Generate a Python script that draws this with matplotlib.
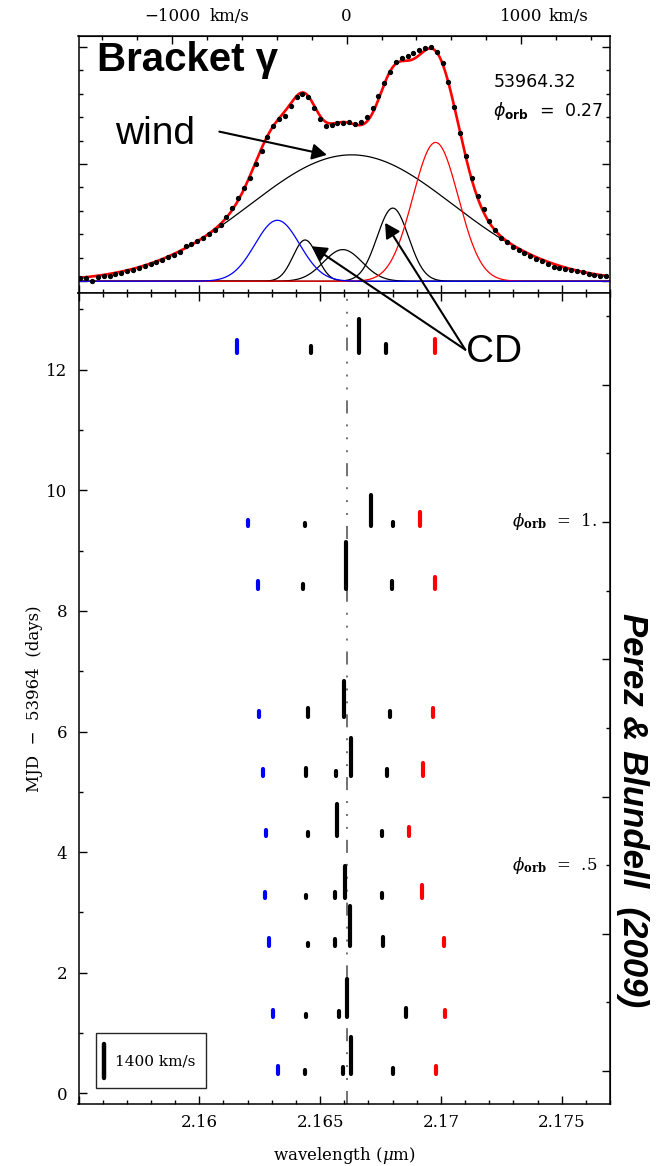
import numpy as np
import matplotlib
matplotlib.use("Agg")
import matplotlib.pyplot as plt
from matplotlib.patches import Rectangle
from matplotlib.ticker import MultipleLocator, FixedLocator, NullFormatter, FuncFormatter
import matplotlib.transforms as mtransforms

plt.rcParams['font.family'] = ['DejaVu Serif']
plt.rcParams['mathtext.fontset'] = 'dejavuserif'
plt.rcParams['lines.scale_dashes'] = False

# ---------------- data ----------------
LAM0 = 2.1661          # Br gamma rest wavelength (micron)
C_KMS = 299792.458

# top panel: observed spectrum (day 0.32), flux in tick units above continuum
spec_wl_start = 2.15508
spec_wl_step = 0.0002418
spec_flux = [0.14, 0.15, 0.03, 0.18, 0.22, 0.24, 0.31, 0.36, 0.45, 0.50,
             0.56, 0.63, 0.72, 0.84, 0.92, 1.04, 1.10, 1.24, 1.50, 1.58,
             1.70, 1.84, 2.00, 2.20, 2.42, 2.75, 3.12, 3.55, 3.97, 4.42,
             4.98, 5.55, 6.15, 6.62, 6.90, 7.05, 7.48, 7.84, 7.99, 7.86,
             7.38, 6.90, 6.62, 6.67, 6.74, 6.76, 6.77, 6.72, 6.80, 7.02,
             7.38, 7.90, 8.47, 8.94, 9.35, 9.52, 9.60, 9.72, 9.86, 9.96,
             10.00, 9.79, 9.29, 8.51, 7.45, 6.31, 5.32, 4.40, 3.62, 3.08,
             2.55, 2.17, 1.84, 1.66, 1.46, 1.35, 1.22, 1.06, 0.95, 0.85,
             0.75, 0.62, 0.57, 0.52, 0.47, 0.43, 0.38, 0.33, 0.28, 0.24, 0.21]

# Gaussian components of the fit: centre (micron), sigma (micron), amplitude
wind_comp = (2.1663, 0.0042, 5.39)
blue_comp = (2.16323, 0.000925, 2.60)
red_comp = (2.16978, 0.00094, 5.92)
cd_comps = [(2.16438, 0.0005, 1.76),
            (2.16594, 0.0008, 1.35),
            (2.16801, 0.00065, 3.12)]

# bottom panel: per epoch (MJD-53964), bar centre wavelengths and bar lengths (days)
epoch_day = [12.27, 9.414, 8.363, 6.248, 5.270, 4.276, 3.237, 2.452, 1.264, 0.320]
blue_wl = [2.16155, 2.16200, 2.16244, 2.16247, 2.16265, 2.16275, 2.16273, 2.16289, 2.16306, 2.16325]
blue_len = [0.221, 0.094, 0.138, 0.099, 0.105, 0.099, 0.105, 0.121, 0.121, 0.133]
red_wl = [2.16977, 2.16913, 2.16974, 2.16967, 2.16927, 2.16869, 2.16921, 2.17013, 2.17018, 2.16978]
red_len = [0.238, 0.221, 0.204, 0.149, 0.215, 0.138, 0.221, 0.127, 0.121, 0.133]
wind_wl = [2.16663, 2.16710, 2.16606, 2.16597, 2.16626, 2.16569, 2.16605, 2.16623, 2.16613, 2.16628]
wind_len = [0.569, 0.514, 0.774, 0.597, 0.624, 0.530, 0.530, 0.652, 0.630, 0.624]
cd_wl = [[2.16464, 2.16774],
         [2.16439, 2.16800],
         [2.16428, 2.16798],
         [2.16449, 2.16791],
         [2.16443, 2.16566, 2.16779],
         [2.16449, 2.16757],
         [2.16442, 2.16562, 2.16757],
         [2.16450, 2.16562, 2.16760],
         [2.16442, 2.16580, 2.16856],
         [2.16438, 2.16594, 2.16803]]
cd_len = [[0.127, 0.155],
          [0.044, 0.066],
          [0.083, 0.127],
          [0.138, 0.099],
          [0.127, 0.072, 0.110],
          [0.066, 0.077],
          [0.055, 0.099, 0.083],
          [0.050, 0.105, 0.138],
          [0.055, 0.105, 0.155],
          [0.061, 0.116, 0.099]]

# orbital phase scale on the right axis
phase_one_day = 9.474
period_days = 11.38
phase_major = [0.2, 0.4, 0.6, 0.8, 1.0, 1.2]
phase_minor = [0.3, 0.5, 0.7, 0.9, 1.1, 1.3]

vel_major = [-1000, 0, 1000]
scale_bar_kms = 1400
scale_bar_len = 0.569

# ---------------- figure ----------------
W, H = 658, 1166
fig = plt.figure(figsize=(W / 100, H / 100), dpi=100)
L, R = 78.5, 610.0
T_top, B_top, B_bot = 35.7, 293.0, 1104.3
ax_top = fig.add_axes([L / W, 1 - B_top / H, (R - L) / W, (B_top - T_top) / H])
ax_bot = fig.add_axes([L / W, 1 - B_bot / H, (R - L) / W, (B_bot - B_top) / H])

XLIM = (2.155, 2.177)

def gauss(x, c, s, a):
    return a * np.exp(-0.5 * ((x - c) / s) ** 2)

# ----- top panel -----
lam = np.linspace(XLIM[0], XLIM[1], 2000)
for comp in [wind_comp] + cd_comps:
    ax_top.plot(lam, gauss(lam, *comp), color='k', lw=0.9, zorder=2)
ax_top.plot(lam, gauss(lam, *red_comp), color='#ff0000', lw=0.9, zorder=2)
ax_top.plot(lam, gauss(lam, *blue_comp), color='#0000ff', lw=0.9, zorder=2.1)
total = sum(gauss(lam, *c) for c in [wind_comp, blue_comp, red_comp] + cd_comps)
ax_top.plot(lam, total, color='#ff0000', lw=1.9, zorder=3)
spec_wl = spec_wl_start + spec_wl_step * np.arange(len(spec_flux))
ax_top.plot(spec_wl, spec_flux, 'o', color='k', ms=2.8, zorder=4)

ax_top.set_xlim(*XLIM)
ax_top.set_ylim(-0.5, 10.47)
ax_top.xaxis.set_major_locator(MultipleLocator(0.005))
ax_top.xaxis.set_minor_locator(MultipleLocator(0.001))
ax_top.yaxis.set_major_locator(MultipleLocator(5))
ax_top.yaxis.set_minor_locator(MultipleLocator(1))
ax_top.tick_params(which='both', direction='in', bottom=True, top=False, left=True, right=True,
                   labelbottom=False, labelleft=False, width=1.0)
ax_top.tick_params(which='major', length=5.8)
ax_top.tick_params(which='minor', length=2.9)

sec_x = ax_top.secondary_xaxis('top', functions=(lambda l: (l / LAM0 - 1) * C_KMS,
                                                  lambda v: LAM0 * (1 + v / C_KMS)))
sec_x.xaxis.set_major_locator(FixedLocator(vel_major))
sec_x.xaxis.set_minor_locator(MultipleLocator(200))
sec_x.tick_params(which='both', direction='in', labeltop=False, width=1.0)
sec_x.tick_params(which='major', length=5.8)
sec_x.tick_params(which='minor', length=2.9)

blend = mtransforms.blended_transform_factory(ax_top.transData, ax_top.transAxes)
ylab = 1 + (T_top - 16.7) / (B_top - T_top)
for v in vel_major:
    x = LAM0 * (1 + v / C_KMS)
    s = '0' if v == 0 else ('\u22121000' if v < 0 else '1000')
    ax_top.text(x, ylab, s, transform=blend, ha='center', va='center', fontsize=12, clip_on=False)
    if v != 0:
        dx = 26.9 if v < 0 else 19.7
        ax_top.annotate('km/s', xy=(x, ylab), xycoords=blend, xytext=(dx, 0),
                        textcoords='offset points', ha='left', va='center', fontsize=12,
                        annotation_clip=False)

for sp in ax_top.spines.values():
    sp.set_linewidth(1.1)

ax_top.text(2.15575, 9.43, 'Bracket \u03b3', family=['Liberation Sans', 'DejaVu Sans'],
            fontweight='bold', fontsize=29, ha='left', va='center')
ax_top.text(2.1565, 5.86, 'wind', family=['Liberation Sans', 'DejaVu Sans'], fontweight='normal',
            fontsize=28, ha='left', va='baseline')
ax_top.annotate('', xy=(2.16528, 5.39), xytext=(2.16083, 6.38),
                arrowprops=dict(arrowstyle='-|>,head_length=0.4,head_width=0.22',
                                mutation_scale=22, color='k', lw=1.5, shrinkA=0, shrinkB=0))
ax_top.text(2.17217, 8.51, '53964.32', family=['DejaVu Sans'], fontsize=12.5, ha='left', va='center')
ax_top.text(2.17217, 7.27, r'$\phi_{\mathbf{orb}}$  =  0.27', family=['DejaVu Sans'],
            math_fontfamily='dejavusans', fontsize=12.5, ha='left', va='center')

# ----- bottom panel -----
ax_bot.axvline(LAM0, color='0.4', lw=1.3,
               linestyle=(0, (9.4, 7.9, 1.4, 7.9, 1.4, 7.9, 1.4, 7.9)), zorder=1)

def bar(x, y0, h, color, lw=3.0):
    ax_bot.plot([x, x], [y0, y0 + h], color=color, lw=lw, solid_capstyle='round', zorder=3)

for i, d in enumerate(epoch_day):
    bar(blue_wl[i], d, blue_len[i], '#0000ff')
    bar(red_wl[i], d, red_len[i], '#ff0000')
    bar(wind_wl[i], d, wind_len[i], 'k')
    for w, h in zip(cd_wl[i], cd_len[i]):
        bar(w, d, h, 'k')

# scale-bar legend
ax_bot.add_patch(Rectangle((2.15573, 0.083), 2.16026 - 2.15573, 0.995 - 0.083,
                           fill=False, edgecolor='0.15', lw=1.0, zorder=2))
bar(2.15605, 0.253, scale_bar_len, 'k', lw=3.2)
ax_bot.text(2.15650, 0.524, f'{scale_bar_kms} km/s', fontsize=11, ha='left', va='center')

ax_bot.set_xlim(*XLIM)
ax_bot.set_ylim(-0.18, 13.27)
ax_bot.xaxis.set_major_locator(MultipleLocator(0.005))
ax_bot.xaxis.set_minor_locator(MultipleLocator(0.001))
ax_bot.xaxis.set_major_formatter(FuncFormatter(lambda x, p: '' if x < 2.1575 else f'{x:g}'))
ax_bot.yaxis.set_major_locator(MultipleLocator(2))
ax_bot.yaxis.set_minor_locator(MultipleLocator(1))
ax_bot.tick_params(which='both', direction='in', bottom=True, top=True, left=True, right=False,
                   labelsize=12, width=1.0)
ax_bot.tick_params(which='major', length=5.8)
ax_bot.tick_params(which='minor', length=2.9)
ax_bot.tick_params(axis='x', pad=7)
ax_bot.tick_params(axis='y', pad=8)
for sp in ax_bot.spines.values():
    sp.set_linewidth(1.1)

sec_y = ax_bot.secondary_yaxis('right', functions=(lambda d: 1 + (d - phase_one_day) / period_days,
                                                    lambda p: phase_one_day + (p - 1) * period_days))
sec_y.yaxis.set_major_locator(FixedLocator(phase_major))
sec_y.yaxis.set_minor_locator(FixedLocator(phase_minor))
sec_y.yaxis.set_major_formatter(NullFormatter())
sec_y.tick_params(which='both', direction='in', width=1.0)
sec_y.tick_params(which='major', length=5.8)
sec_y.tick_params(which='minor', length=2.9)

for ph, s in [(1.0, '1.'), (0.5, '.5')]:
    ax_bot.text(2.17648, phase_one_day + (ph - 1) * period_days,
                r'$\phi_{\mathbf{orb}}$  =  ' + s, fontsize=12, ha='right', va='center')

# CD label and arrows
ax_bot.text(2.17103, 12.126, 'CD', family=['Liberation Sans', 'DejaVu Sans'], fontweight='normal',
            fontsize=28, ha='left', va='baseline')
for tip in [(2.16769, 2.49), (2.16466, 1.49)]:
    ax_bot.annotate('', xy=tip, xycoords=ax_top.transData, xytext=(2.17101, 12.33),
                    textcoords='data', annotation_clip=False,
                    arrowprops=dict(arrowstyle='-|>,head_length=0.4,head_width=0.22',
                                    mutation_scale=22, color='k', lw=1.5, shrinkA=0, shrinkB=0))

fig.text(344 / W, 1 - 1155 / H, r'wavelength ($\mu$m)', ha='center', va='center', fontsize=12)
fig.text(35 / W, 1 - 699 / H, 'MJD  \u2212  53964  (days)', ha='center', va='center',
         rotation=90, fontsize=12)
fig.text(633 / W, 1 - 810 / H, 'Perez & Blundell  (2009)', family=['Liberation Sans', 'DejaVu Sans'],
         fontweight='bold', style='italic', fontsize=25, rotation=-90, ha='center', va='center')

fig.savefig('out.png', dpi=100)
